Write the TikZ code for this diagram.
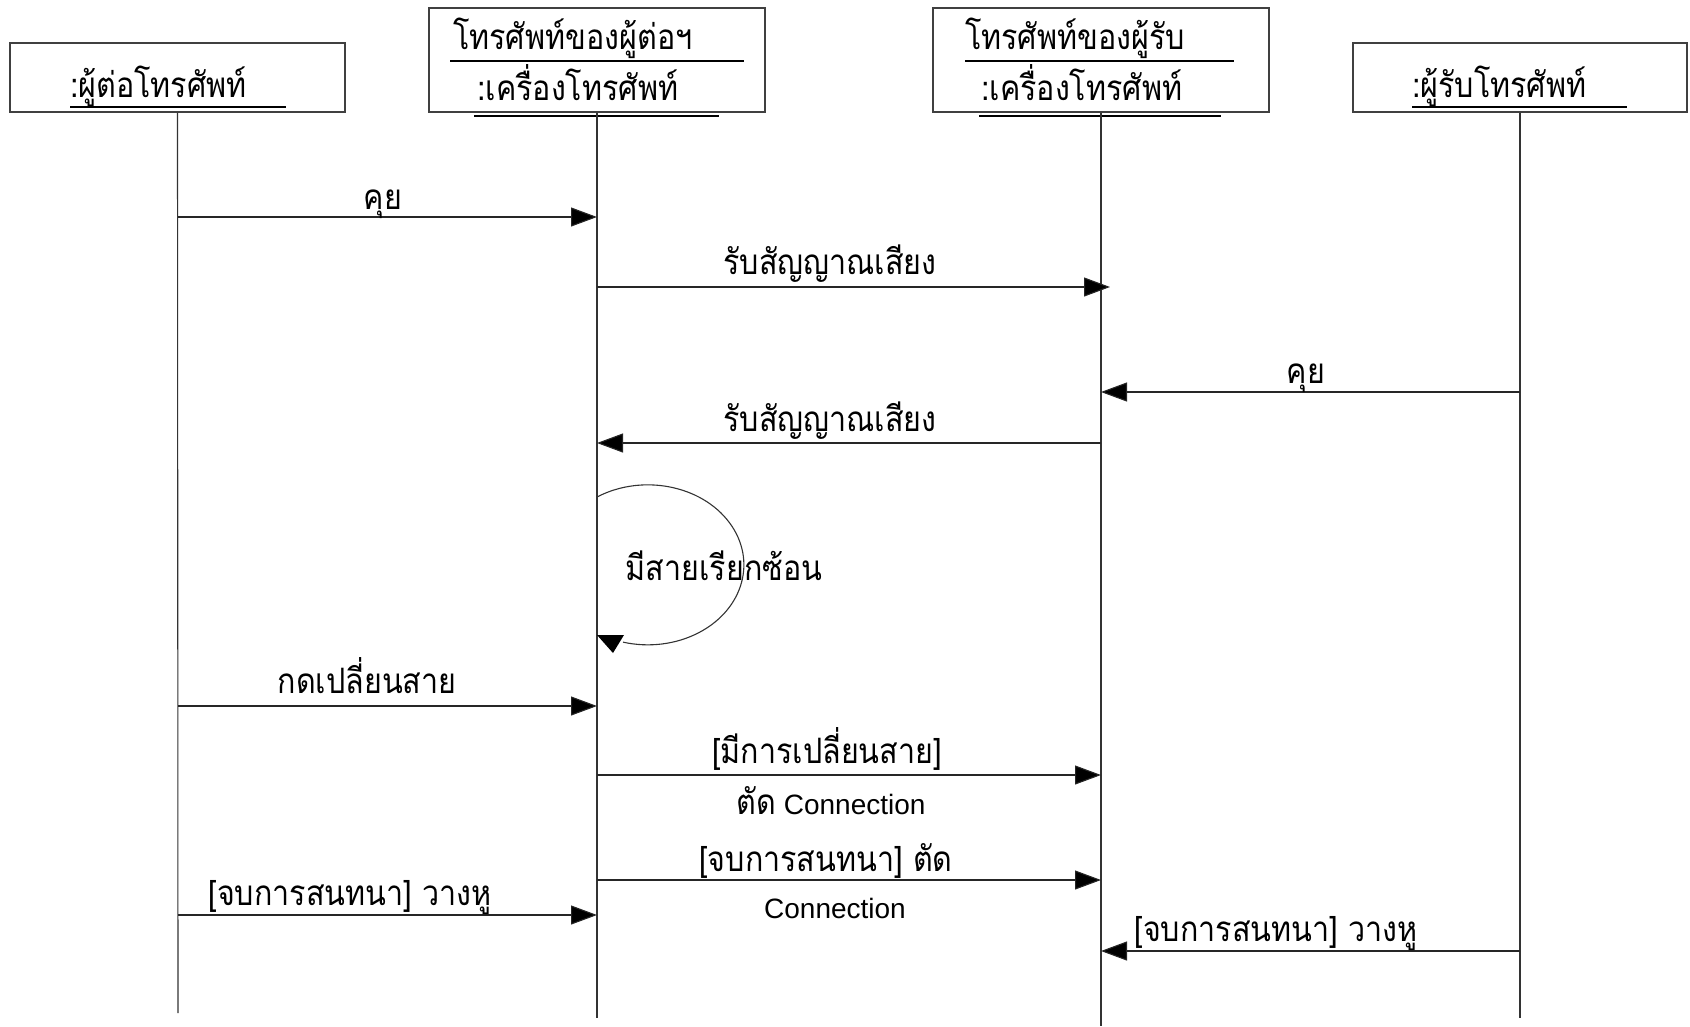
\documentclass[tikz,border=0pt]{standalone}
\usepackage{fontspec}
\setmainfont{Liberation Sans}
\newfontfamily\thai[Script=Thai, FakeStretch=0.87]{Loma}
\usetikzlibrary{arrows.meta}

\tikzset{
  actor/.style={draw=black!75, line width=1.3pt, fill=white, inner sep=0pt},
  lifeline/.style={draw=black!80, line width=1.1pt},
  uline/.style={draw=black, line width=2.6pt},
  msg/.style={draw=black!85, line width=1.1pt, -{Triangle[length=26pt, width=19pt, fill=black]}},
  lbl/.style={font=\thai\fontsize{35}{38}\selectfont, inner sep=0pt, anchor=base},
  lat/.style={font=\fontsize{28}{32}\selectfont, inner sep=0pt, anchor=base},
}

\begin{document}
\begin{tikzpicture}[x=1pt, y=-1pt]
  \useasboundingbox (0,0) rectangle (1690,1026);

  % object boxes
  \node[actor, minimum width=335pt, minimum height=69pt]  (b1) at (177.5,77.5) {};
  \node[actor, minimum width=336pt, minimum height=104pt] (b2) at (597,60) {};
  \node[actor, minimum width=336pt, minimum height=104pt] (b3) at (1101,60) {};
  \node[actor, minimum width=334pt, minimum height=69pt]  (b4) at (1520,77.5) {};

  % object names
  \node[lbl, anchor=base west] (t1)  at (70,97)   {:ผู้ต่อโทรศัพท์};
  \node[lbl, anchor=base west] (t2a) at (453,49)  {โทรศัพท์ของผู้ต่อฯ};
  \node[lbl, anchor=base west] (t2b) at (477,100) {:เครื่องโทรศัพท์};
  \node[lbl, anchor=base west] (t3a) at (965,49)  {โทรศัพท์ของผู้รับ};
  \node[lbl, anchor=base west] (t3b) at (981,100) {:เครื่องโทรศัพท์};
  \node[lbl, anchor=base west] (t4)  at (1412,97) {:ผู้รับโทรศัพท์};

  \draw[uline] (70,107) -- (286,107);
  \draw[uline] (450,61) -- (744,61);
  \draw[uline] (474,116) -- (719,116);
  \draw[uline] (965,61) -- (1234,61);
  \draw[uline] (979,116) -- (1221,116);
  \draw[uline] (1412,107) -- (1627,107);

  % lifelines
  \coordinate (e1) at (178,1013);
  \coordinate (e2) at (597,1018);
  \coordinate (e3) at (1101,1026);
  \coordinate (e4) at (1520,1018);
  \draw[lifeline] (b1.south) -- (e1);
  \draw[lifeline] (b2.south) -- (e2);
  \draw[lifeline] (b3.south) -- (e3);
  \draw[lifeline] (b4.south) -- (e4);

  % message end points on the lifelines
  \foreach \n/\y in {1/217, 2/287, 3/392, 4/443, 6/706, 7/775, 8/880, 9/915, 10/951} {
    \coordinate (p1-\n) at (178,\y);
    \coordinate (p2-\n) at (597,\y);
    \coordinate (p3-\n) at (1101,\y);
    \coordinate (p4-\n) at (1520,\y);
  }

  % messages
  \draw[msg] (p1-1) -- (p2-1);
  \node[lbl] (m1) at (383,209) {คุย};

  \draw[msg, shorten >=-9pt] (p2-2) -- (p3-2);
  \node[lbl] (m2) at (830,274) {รับสัญญาณเสียง};

  \draw[msg] (p4-3) -- (p3-3);
  \node[lbl] (m3) at (1306,383) {คุย};

  \draw[msg] (p3-4) -- (p2-4);
  \node[lbl] (m4) at (830,431) {รับสัญญาณเสียง};

  % self call on the caller's phone
  \coordinate (ls) at (597,497);
  \coordinate (lt) at (613,653);
  \draw[lifeline] (ls) arc[start angle=122, end angle=-105, x radius=96pt, y radius=80pt];
  \fill[black] (lt) -- ++(-16,-18) -- ++(27,0) -- cycle;
  \node[lbl] (m5) at (724,580) {มีสายเรียกซ้อน};

  \draw[msg] (p1-6) -- (p2-6);
  \node[lbl] (m6) at (367,693) {กดเปลี่ยนสาย};

  \draw[msg] (p2-7) -- (p3-7);
  \node[lbl] (m7a) at (827,763) {[มีการเปลี่ยนสาย]};
  \node[lat] (m7b) at (831,814) {{\thai\fontsize{35}{38}\selectfont ตัด} Connection};

  \draw[msg] (p2-8) -- (p3-8);
  \node[lbl] (m8a) at (826,871) {[จบการสนทนา] ตัด};
  \node[lat] (m8b) at (835,918) {Connection};

  \draw[msg] (p1-9) -- (p2-9);
  \node[lbl] (m9) at (350,905) {[จบการสนทนา] วางหู};

  \draw[msg] (p4-10) -- (p3-10);
  \node[lbl] (m10) at (1276,941) {[จบการสนทนา] วางหู};
\end{tikzpicture}
\end{document}
